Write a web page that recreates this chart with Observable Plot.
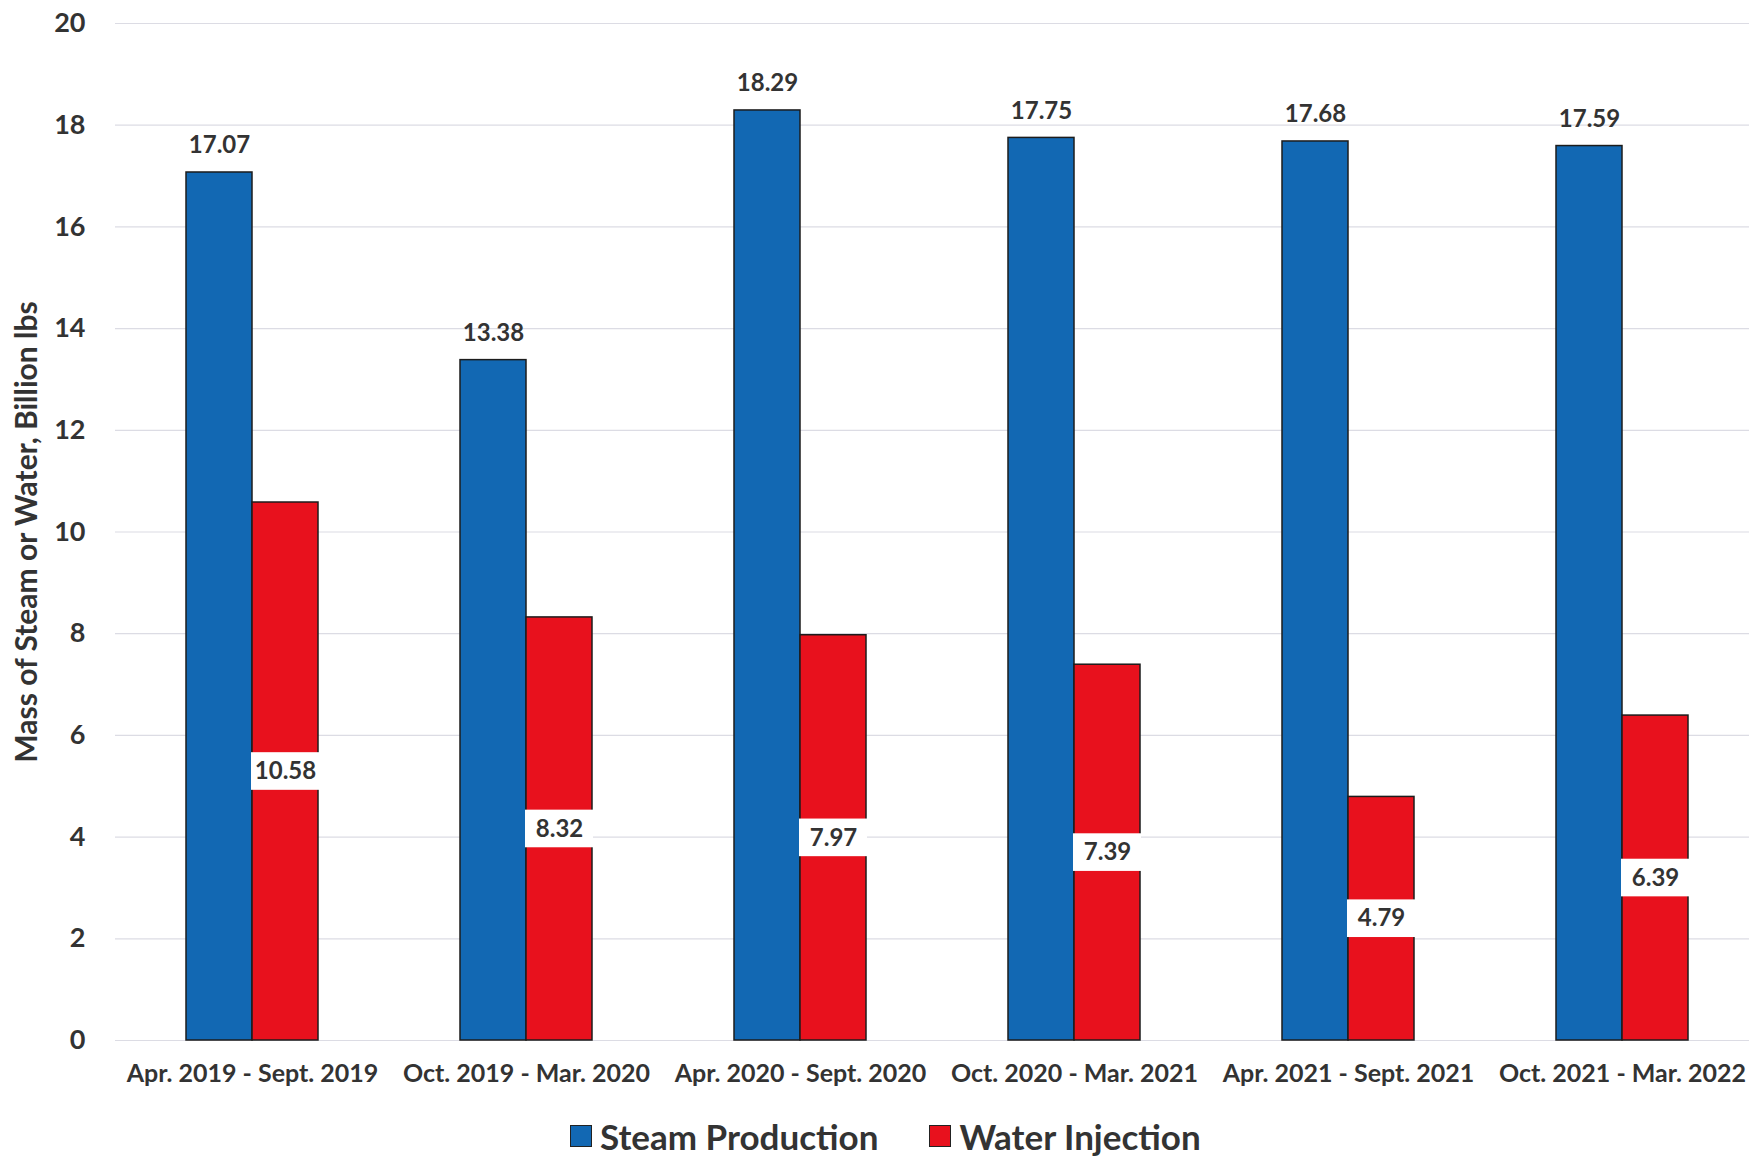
<!DOCTYPE html>
<html>
<head>
<meta charset="utf-8">
<script src="https://cdn.jsdelivr.net/npm/d3@7"></script>
<script src="https://cdn.jsdelivr.net/npm/@observablehq/plot@0.6"></script>
<style>
  html, body { margin: 0; padding: 0; background: #fff; overflow: hidden; }
  body { width: 1749px; height: 1157px; position: relative; font-family: Lato, "Noto Sans", sans-serif; }
  #legend { position: absolute; top: 1115px; left: 570px; display: flex; align-items: center; font-weight: 700; font-size: 35px; color: #333; }
  .item { display: flex; align-items: center; margin-right: 51px; }
  .sw { width: 22px; height: 22px; border: 1px solid #222; margin-right: 8px; box-sizing: border-box; }
  #chart svg [aria-label^="y-axis"] text { font-size: 27px; }
  #chart svg [aria-label="y-axis label"] text { font-size: 30px; }
  #chart svg [aria-label^="fx-axis"] text { font-size: 25px; }
</style>
</head>
<body>
<div id="chart"></div>
<div id="legend"></div>
<script>
const periods = [
  "Apr. 2019 - Sept. 2019",
  "Oct. 2019 - Mar. 2020",
  "Apr. 2020 - Sept. 2020",
  "Oct. 2020 - Mar. 2021",
  "Apr. 2021 - Sept. 2021",
  "Oct. 2021 - Mar. 2022"
];
const seriesNames = ["Steam Production", "Water Injection"];
const steamProduction = [17.07, 13.38, 18.29, 17.75, 17.68, 17.59];
const waterInjection = [10.58, 8.32, 7.97, 7.39, 4.79, 6.39];
const seriesColors = ["#1268b3", "#e8111d"];
const yTicks = [0, 2, 4, 6, 8, 10, 12, 14, 16, 18, 20];

const data = periods.flatMap((p, i) => [
  {period: p, series: seriesNames[0], value: steamProduction[i]},
  {period: p, series: seriesNames[1], value: waterInjection[i]}
]);
const steamData = data.filter(d => d.series === seriesNames[0]);
const waterData = data.filter(d => d.series === seriesNames[1]);

const chart = Plot.plot({
  width: 1749,
  height: 1105,
  marginLeft: 113,
  marginRight: -12,
  marginTop: 23,
  marginBottom: 65,
  style: {fontFamily: "Lato, 'Noto Sans', sans-serif", fontWeight: 700, fontSize: "24px", color: "#333", background: "#fff", overflow: "visible"},
  fx: {domain: periods, padding: 0, label: null, axis: "bottom", tickSize: 0, tickPadding: 24},
  x: {domain: seriesNames, axis: null, paddingInner: 0, paddingOuter: 1.05},
  y: {domain: [0, 20], ticks: yTicks, tickSize: 0, tickPadding: 30,
      label: "Mass of Steam or Water, Billion lbs", labelAnchor: "center", labelOffset: 100, labelArrow: false, grid: false},
  color: {domain: seriesNames, range: seriesColors},
  marks: [
    Plot.ruleY(yTicks, {stroke: "#dcdce4", strokeWidth: 1.2}),
    Plot.barY(data, {fx: "period", x: "series", y: "value", fill: "series", stroke: "#1c1c1c", strokeWidth: 1.5}),
    Plot.barY(waterData, {fx: "period", x: "series", y1: d => d.value / 2 - 0.37, y2: d => d.value / 2 + 0.37, fill: "#fff", insetLeft: -1, insetRight: -1}),
    Plot.text(waterData, {fx: "period", x: "series", y: d => d.value / 2, text: d => d.value.toFixed(2), fontSize: 24, fontWeight: 700, fill: "#333", lineAnchor: "middle"}),
    Plot.text(steamData, {fx: "period", x: "series", y: "value", text: d => d.value.toFixed(2), fontSize: 24, fontWeight: 700, fill: "#333", lineAnchor: "middle", dy: -27})
  ]
});
document.getElementById("chart").appendChild(chart);

const legend = document.getElementById("legend");
seriesNames.forEach((name, i) => {
  const item = document.createElement("div");
  item.className = "item";
  const sw = document.createElement("div");
  sw.className = "sw";
  sw.style.background = seriesColors[i];
  const label = document.createElement("span");
  label.textContent = name;
  item.appendChild(sw);
  item.appendChild(label);
  legend.appendChild(item);
});
</script>
</body>
</html>
